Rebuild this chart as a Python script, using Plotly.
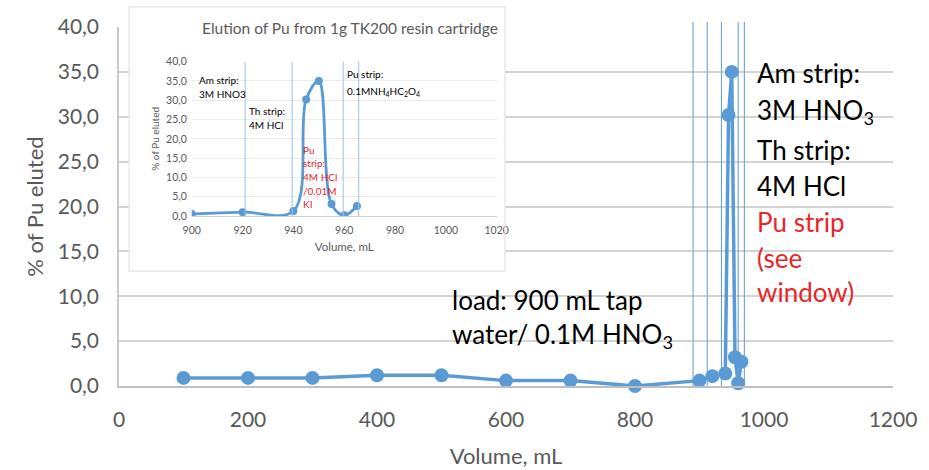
import plotly.graph_objects as go

# Elution profile of Pu: load phase followed by strip fractions
volume_ml = [100, 200, 300, 400, 500, 600, 700, 800, 900, 920, 940, 945, 950, 955, 960, 965]
pu_eluted = [0.9, 0.9, 0.9, 1.2, 1.2, 0.6, 0.6, 0.0, 0.6, 1.1, 1.4, 30.2, 35.0, 3.2, 0.3, 2.7]

# Detail window: strip fractions only
inset_volume = [900, 920, 940, 945, 950, 955, 960, 965]
inset_pu = [0.5, 1.0, 1.3, 30.2, 35.0, 3.1, 0.2, 2.6]

# Fraction boundaries
main_boundaries = [890, 912, 934, 960, 969.5]
inset_boundaries = [921, 939.5, 959.6, 965.7]

x_ticks = [0, 200, 400, 600, 800, 1000, 1200]
y_ticks = [0, 5, 10, 15, 20, 25, 30, 35, 40]
inset_x_ticks = [900, 920, 940, 960, 980, 1000, 1020]

BLUE = "#5b9bd5"
GRID = "#d4d4d4"
TXT = "#595959"
RED = "#e8262a"
FONT = "Lato, Carlito, sans-serif"

fig = go.Figure()

fig.add_trace(go.Scatter(
    x=volume_ml, y=pu_eluted, mode="lines+markers",
    line=dict(color=BLUE, width=3.5), marker=dict(color=BLUE, size=14),
    xaxis="x", yaxis="y", showlegend=False, cliponaxis=False,
))

fig.add_trace(go.Scatter(
    x=inset_volume, y=inset_pu, mode="lines+markers",
    line=dict(color=BLUE, width=2.8, shape="spline", smoothing=1.0),
    marker=dict(color=BLUE, size=8),
    xaxis="x2", yaxis="y2", showlegend=False,
))

# detail-window panel extent (paper fractions)
PANEL = dict(x0=0.013, x1=0.4987, y0=0.32, y1=1.056)

shapes = []
# white panel hides the main grid behind the detail window
shapes.append(dict(type="rect", xref="x", yref="y",
                   x0=PANEL["x0"] * 1200, x1=PANEL["x1"] * 1200,
                   y0=PANEL["y0"] * 40, y1=40,
                   fillcolor="white", line=dict(width=0), layer="between"))
shapes.append(dict(type="rect", xref="paper", yref="paper",
                   fillcolor="rgba(0,0,0,0)", line=dict(color="#e3e3e3", width=1.2),
                   layer="above", **PANEL))
for b in main_boundaries:
    shapes.append(dict(type="line", xref="x", yref="paper", x0=b, x1=b, y0=0, y1=1.014,
                       line=dict(color=BLUE, width=1), layer="above"))
for b in inset_boundaries:
    shapes.append(dict(type="line", xref="x2", yref="y2", x0=b, x1=b, y0=-1, y1=42,
                       line=dict(color="#9dc3e6", width=1), layer="above"))

annotations = []


def px2paper(px, py):
    return (px - 119) / 774, (386 - py) / 359


def label(text, px, py, size, color="black", xanchor="left"):
    x, y = px2paper(px, py)
    annotations.append(dict(text=text, x=x, y=y, xref="paper", yref="paper",
                            xanchor=xanchor, yanchor="middle", showarrow=False,
                            font=dict(family=FONT, size=size, color=color)))


# main-chart notes
right_notes = [("Am strip:", 73, "black"), ("3M HNO<sub>3</sub>", 112, "black"),
               ("Th strip:", 150, "black"), ("4M HCl", 186, "black"),
               ("Pu strip", 222, RED), ("(see", 258, RED), ("window)", 292, RED)]
for t, py, c in right_notes:
    label(t, 755, py, 26, c)
label("load: 900 mL tap", 450, 300, 26)
label("water/ 0.1M HNO<sub>3</sub>", 450, 335, 26)

# detail-window notes
label("Elution of Pu from 1g TK200 resin cartridge", 350, 28, 15.5, TXT, xanchor="center")
label("Am strip:", 197, 80, 10)
label("3M HNO3", 197, 94, 10)
label("Th strip:", 247, 111, 10)
label("4M HCl", 247, 125, 10)
label("Pu strip:", 345, 74, 10)
label("0.1MNH<sub>4</sub>HC<sub>2</sub>O<sub>4</sub>", 345, 91, 10)
for t, py in [("Pu", 150), ("strip:", 163), ("4M HCl", 177), ("/0.01M", 191), ("KI", 204)]:
    label(t, 301, py, 10, RED)

fig.update_layout(
    width=929, height=470,
    margin=dict(l=119, r=36, t=27, b=84),
    paper_bgcolor="white", plot_bgcolor="white",
    separators=", ",
    font=dict(family=FONT, color=TXT),
    shapes=shapes, annotations=annotations,
    xaxis=dict(range=[0, 1200], tickvals=x_ticks, tickformat="d", automargin=False,
               showgrid=False, showline=True, linecolor="#bfbfbf", linewidth=2,
               zeroline=False, ticks="", ticklabelstandoff=14,
               tickfont=dict(size=21, color=TXT),
               title=dict(text="Volume, mL", font=dict(size=22, color=TXT), standoff=18)),
    yaxis=dict(range=[0, 40], tickvals=y_ticks, tickformat=".1f", automargin=False,
               showgrid=True, gridcolor=GRID, gridwidth=1.5,
               showline=True, linecolor="#c8c8c8", linewidth=1.5,
               zeroline=False, ticks="", ticklabelstandoff=14,
               tickfont=dict(size=21, color=TXT),
               title=dict(text="% of Pu eluted", font=dict(size=22, color=TXT), standoff=8)),
    xaxis2=dict(domain=[0.094, 0.488], anchor="y2", range=[900, 1020],
                tickvals=inset_x_ticks, tickformat="d", automargin=False,
                showgrid=False, showline=True, linecolor="#cfcfcf", linewidth=1,
                zeroline=False, ticks="", ticklabelstandoff=4,
                tickfont=dict(size=10.5, color=TXT),
                title=dict(text="Volume, mL", font=dict(size=11.5, color=TXT), standoff=8)),
    yaxis2=dict(domain=[0.4735, 0.9034], anchor="x2", range=[0, 40],
                tickvals=y_ticks, tickformat=".1f", automargin=False,
                showgrid=True, gridcolor="#ececec", gridwidth=1,
                showline=False, zeroline=False, ticks="", ticklabelstandoff=4,
                tickfont=dict(size=10.5, color=TXT),
                title=dict(text="% of Pu eluted", font=dict(size=10, color=TXT), standoff=4)),
)

fig.write_html("out.html")
